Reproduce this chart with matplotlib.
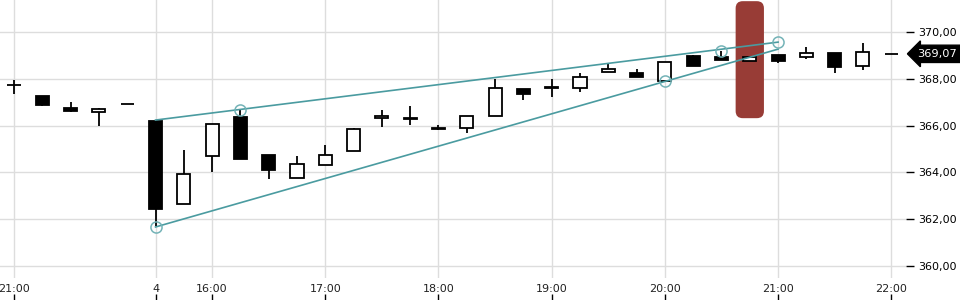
import matplotlib
matplotlib.use("Agg")
import matplotlib.pyplot as plt
from matplotlib.patches import Rectangle, FancyBboxPatch
from matplotlib.ticker import FuncFormatter

# 15-minute candles, previous day 21:00-22:00 then day 4 from 15:30
opens  = [367.75, 367.25, 366.77, 366.59, 366.93, 366.22, 362.66, 364.71, 366.38, 364.75,
          363.77, 364.32, 364.92, 366.33, 366.33, 365.91, 365.91, 366.42, 367.57, 367.66,
          367.62, 368.30, 368.25, 367.91, 368.99, 368.95, 368.76, 369.02, 368.93, 369.12,
          368.55, 369.07]
highs  = [367.93, 367.25, 366.99, 366.76, 366.93, 366.22, 364.98, 366.08, 366.68, 364.75,
          364.71, 365.19, 365.91, 366.69, 366.86, 366.03, 366.42, 368.00, 367.57, 368.00,
          368.23, 368.64, 368.43, 368.73, 369.03, 369.17, 368.93, 369.02, 369.36, 369.12,
          369.54, 369.07]
lows   = [367.36, 366.83, 366.58, 366.00, 366.93, 361.70, 362.66, 364.01, 364.57, 363.73,
          363.77, 364.32, 364.92, 365.93, 366.02, 365.81, 365.68, 366.42, 367.09, 367.22,
          367.43, 368.30, 368.06, 367.91, 368.53, 368.79, 368.76, 368.66, 368.87, 368.23,
          368.36, 369.07]
closes = [367.72, 366.87, 366.62, 366.72, 366.93, 362.43, 363.94, 366.08, 364.57, 364.10,
          364.37, 364.75, 365.86, 366.42, 366.28, 365.85, 366.42, 367.62, 367.36, 367.62,
          368.09, 368.43, 368.06, 368.73, 368.53, 368.79, 368.93, 368.75, 369.10, 368.49,
          369.15, 369.07]

tick_idx = [0, 5, 7, 11, 15, 19, 23, 27, 31]
tick_lbl = ["21:00", "4", "16:00", "17:00", "18:00", "19:00", "20:00", "21:00", "22:00"]
y_ticks = [360, 362, 364, 366, 368, 370]

# trend lines (index, price) and circled anchor points
upper_x, upper_y = [5, 27], [366.24, 369.57]
lower_x, lower_y = [5, 27], [361.67, 369.27]
pts_x = [5, 8, 23, 25, 27]
pts_y = [361.67, 366.68, 367.90, 369.17, 369.57]
hl_idx = 26
last = 369.07

fig = plt.figure(figsize=(9.6, 3.0), dpi=100)
ax = fig.add_axes([0, 1 - 278 / 300, 906 / 960, 278 / 300])

red = "#983c36"
hl = FancyBboxPatch((hl_idx - 0.5, 366.32), 1.0, 5.0,
                    boxstyle="round,pad=0,rounding_size=0.25",
                    mutation_aspect=28.3 / 23.4, fc=red, ec="none", zorder=1)
ax.add_patch(hl)

w = 0.46
for i, (o, h, l, c) in enumerate(zip(opens, highs, lows, closes)):
    ax.plot([i, i], [l, h], color="black", lw=1.3, zorder=3, solid_capstyle="butt")
    fc = "black" if c < o else "white"
    ax.add_patch(Rectangle((i - w / 2, min(o, c)), w, abs(c - o),
                           fc=fc, ec="black", lw=1.3, zorder=4))

teal = "#4a9ba0"
ax.plot(upper_x, upper_y, color=teal, lw=1.2, zorder=5)
ax.plot(lower_x, lower_y, color=teal, lw=1.2, zorder=5)
ax.plot(pts_x, pts_y, "o", ms=8, mfc="none", mec="#74b3b7", mew=1.1, zorder=6)

ax.set_xlim(-0.495, 31.52)
ax.set_ylim(359.49, 371.37)
ax.set_xticks(tick_idx)
ax.set_xticklabels(tick_lbl)
ax.set_yticks(y_ticks)
ax.yaxis.set_major_formatter(FuncFormatter(lambda v, p: f"{v:.2f}".replace(".", ",")))
ax.yaxis.tick_right()
ax.grid(color="#dddddd", lw=1)
ax.set_axisbelow(True)
for s in ax.spines.values():
    s.set_visible(False)
ax.tick_params(axis="x", length=0, pad=4, labelsize=8, labelcolor="#222222")
ax.tick_params(axis="y", length=6, width=1, pad=3, labelsize=8, color="black")

sec = ax.secondary_xaxis(-22 / 278)
sec.set_xticks(tick_idx)
sec.set_xticklabels([])
sec.tick_params(axis="x", direction="in", length=4, width=1, color="black")
sec.spines["bottom"].set_visible(False)

ax.annotate(f"{last:.2f}".replace(".", ","), xy=(1.0, last),
            xycoords=("axes fraction", "data"), xytext=(8, 0),
            textcoords="offset points", va="center", ha="left",
            fontsize=8.2, color="white",
            bbox=dict(boxstyle="larrow,pad=0.32", fc="black", ec="black"))

fig.savefig("out.png", dpi=100)
